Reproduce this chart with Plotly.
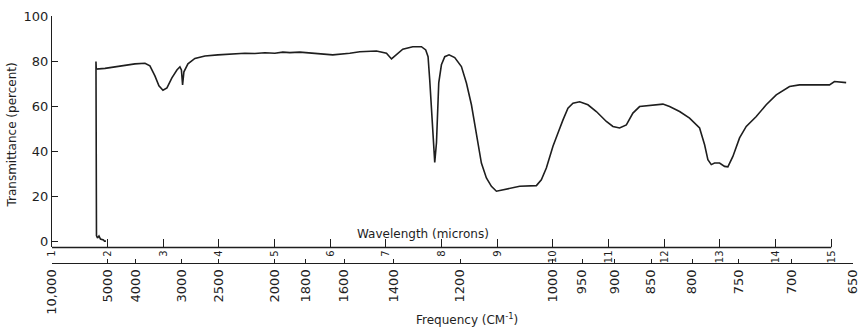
import plotly.graph_objects as go

# Infrared transmission spectrum, plotted against wavelength (microns)
wavelength_um = [
    1.969, 1.943, 1.925, 1.898, 1.871, 1.844, 1.817, 1.799, 1.790, 1.795,
    1.952, 2.131, 2.311, 2.490, 2.670, 2.759, 2.849, 2.921, 2.993, 3.065,
    3.154, 3.244, 3.298, 3.325, 3.346, 3.370, 3.442, 3.567, 3.747, 3.980,
    4.465, 4.645, 4.824, 5.004, 5.147, 5.273, 5.452, 5.632, 5.812, 6.044,
    6.350, 6.529, 6.829, 7.009, 7.099, 7.188, 7.302, 7.481, 7.637, 7.714,
    7.756, 7.786, 7.817, 7.846, 7.876, 7.907, 7.925, 7.948, 7.996, 8.056,
    8.133, 8.235, 8.355, 8.445, 8.535, 8.594, 8.653, 8.714, 8.804, 8.894,
    8.984, 9.163, 9.402, 9.702, 9.791, 9.881, 10.000, 10.090, 10.120, 10.180,
    10.269, 10.359, 10.479, 10.628, 10.779, 10.959, 11.077, 11.197, 11.318, 11.436,
    11.556, 11.736, 11.975, 12.095, 12.275, 12.454, 12.634, 12.724, 12.783, 12.844,
    12.903, 12.993, 13.083, 13.142, 13.232, 13.352, 13.472, 13.652, 13.831, 14.011,
    14.250, 14.429, 14.729, 14.968, 15.057, 15.267,
]
transmittance_pct = [
    0.3, 0.3, 0.8, 1.0, 1.2, 2.6, 1.7, 2.8, 79.8, 76.5,
    76.8, 77.5, 78.1, 78.8, 79.1, 77.9, 73.5, 69.1, 67.1, 68.2,
    72.6, 76.1, 77.5, 76.1, 69.5, 75.3, 78.8, 81.2, 82.3, 82.8,
    83.5, 83.4, 83.7, 83.5, 84.0, 83.8, 84.0, 83.6, 83.3, 82.8,
    83.5, 84.2, 84.5, 83.5, 81.0, 82.8, 85.3, 86.4, 86.4, 85.0,
    82.0, 71.7, 57.1, 43.9, 35.2, 43.9, 57.1, 70.4, 78.4, 82.0,
    82.8, 81.6, 77.6, 70.3, 60.7, 52.6, 43.8, 34.9, 28.3, 24.6,
    22.4, 23.4, 24.6, 24.9, 27.5, 32.7, 42.3, 48.2, 49.9, 54.0,
    59.2, 61.4, 62.0, 60.7, 57.7, 53.3, 51.1, 50.4, 51.8, 57.0,
    59.9, 60.4, 61.0, 59.9, 57.7, 54.8, 50.4, 43.0, 36.4, 34.2,
    34.9, 34.9, 33.4, 33.2, 37.8, 46.0, 51.1, 55.5, 60.7, 65.1,
    68.8, 69.5, 69.5, 69.5, 71.0, 70.5,
]

# Axis ticks
wavelength_ticks = list(range(1, 16))
wavelength_labels = [str(v) for v in wavelength_ticks]
frequency_ticks = [10000, 5000, 4000, 3000, 2500, 2000, 1800, 1600, 1400,
                   1200, 1000, 950, 900, 850, 800, 750, 700, 650]
frequency_labels = ["10,000", "5000", "4000", "3000", "2500", "2000", "1800",
                    "1600", "1400", "1200", "1000", "950", "900", "850", "800",
                    "750", "700", "650"]
transmittance_ticks = [0, 20, 40, 60, 80, 100]

INK = "#1e1e1e"
FONT = "DejaVu Sans"
X_RANGE = [1, 15.39]

fig = go.Figure()
fig.add_trace(go.Scatter(
    x=wavelength_um, y=transmittance_pct, mode="lines",
    line=dict(color=INK, width=1.6), hoverinfo="skip", showlegend=False,
))
# empty trace so the frequency axis is drawn
fig.add_trace(go.Scatter(x=[], y=[], xaxis="x2", yaxis="y", showlegend=False))

fig.update_layout(
    width=860, height=330,
    margin=dict(l=52, r=7, t=16, b=67),
    paper_bgcolor="white", plot_bgcolor="white",
    font=dict(family=FONT, color=INK),
    xaxis=dict(
        range=X_RANGE, showgrid=False, zeroline=False, showline=False,
        automargin=False,
        tickmode="array", tickvals=wavelength_ticks, ticktext=wavelength_labels,
        ticks="inside", ticklen=8, tickwidth=1.2, tickcolor=INK,
        tickangle=-90, tickfont=dict(size=10, color=INK), anchor="y",
    ),
    xaxis2=dict(
        range=X_RANGE, overlaying="x", anchor="free", position=0, side="bottom",
        showgrid=False, zeroline=False, showline=True, linecolor=INK, linewidth=1.3,
        automargin=False,
        tickmode="array", tickvals=[10000 / f for f in frequency_ticks],
        ticktext=frequency_labels,
        ticks="inside", ticklen=4, tickwidth=1.2, tickcolor=INK,
        tickangle=-90, tickfont=dict(size=13, color=INK),
    ),
    yaxis=dict(
        range=[-2.5, 100], domain=[0.0628, 1], showgrid=False, zeroline=False,
        showline=True, linecolor=INK, linewidth=1.3, automargin=False,
        tickmode="array", tickvals=transmittance_ticks,
        ticks="inside", ticklen=6, tickwidth=1.2, tickcolor=INK,
        tickfont=dict(size=13, color=INK),
    ),
)

# wavelength baseline, running from 1 to 15 microns
fig.add_shape(type="line", xref="x", yref="y domain", x0=1, x1=15, y0=0, y1=0,
              line=dict(color=INK, width=1.3))

fig.add_annotation(text="Wavelength (microns)", xref="paper", yref="paper",
                   x=0.463, y=0.117, xanchor="center", yanchor="middle",
                   showarrow=False, font=dict(size=12, color=INK))
fig.add_annotation(text="Frequency (CM<sup>-1</sup>)", xref="paper", yref="paper",
                   x=0.518, y=-0.225, xanchor="center", yanchor="middle",
                   showarrow=False, font=dict(size=12, color=INK))
fig.add_annotation(text="Transmittance (percent)", xref="paper", yref="paper",
                   x=-0.0493, y=0.518, xanchor="center", yanchor="middle",
                   textangle=-90, showarrow=False, font=dict(size=12, color=INK))

fig.write_html("out.html")
